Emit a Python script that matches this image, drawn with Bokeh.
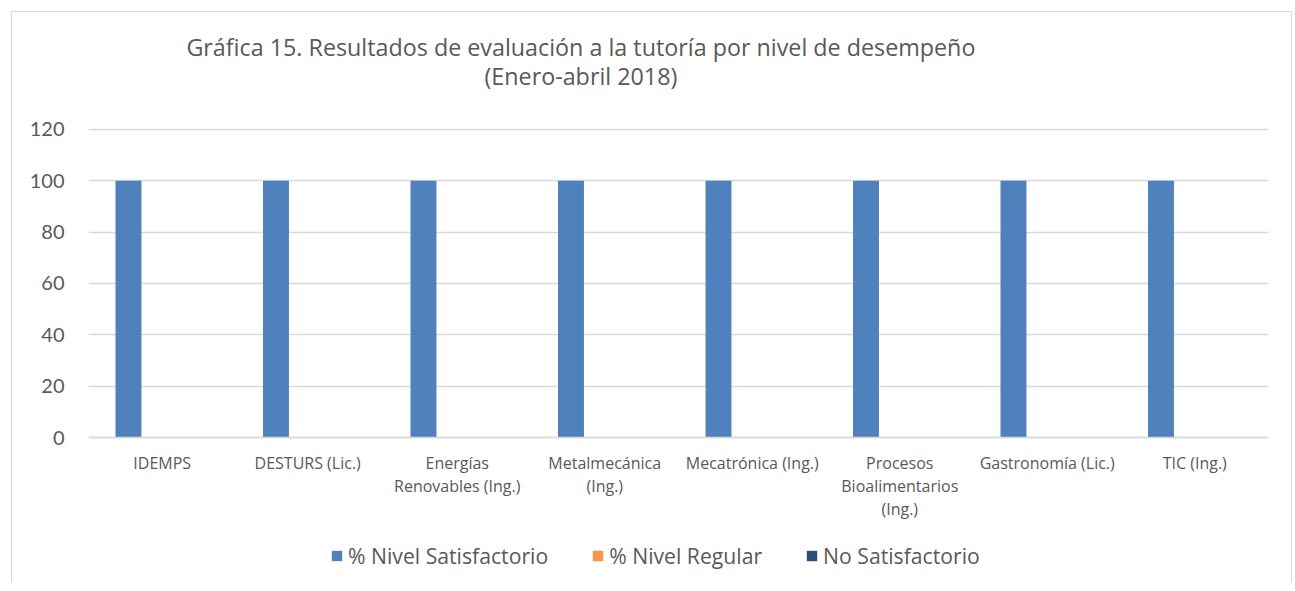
from bokeh.plotting import figure
from bokeh.models import ColumnDataSource, Label, Legend, LegendItem, FactorRange
from bokeh.transform import dodge
from bokeh.embed import file_html
from bokeh.resources import INLINE

categories = ["IDEMPS", "DESTURS  (Lic.)", "Energías\nRenovables (Ing.)", "Metalmecánica\n(Ing.)",
              "Mecatrónica (Ing.)", "Procesos\nBioalimentarios\n(Ing.)", "Gastronomía (Lic.)", "TIC (Ing.)"]
satisfactorio = [100, 100, 100, 100, 100, 100, 100, 100]
regular = [0, 0, 0, 0, 0, 0, 0, 0]
no_satisfactorio = [0, 0, 0, 0, 0, 0, 0, 0]
series_names = ["% Nivel Satisfactorio", "% Nivel Regular", "No Satisfactorio"]
y_ticks = [0, 20, 40, 60, 80, 100, 120]
colors = ["#4f81bd", "#f79646", "#2c4d75"]
title1 = "Gráfica 15. Resultados de evaluación a la tutoría por nivel de desempeño"
title2 = "(Enero-abril 2018)"

src = ColumnDataSource(dict(cat=categories, s=satisfactorio, r=regular, n=no_satisfactorio))

# frame spans the whole canvas height; the value axis covers 0..120 inside it
p = figure(width=1281, height=571, output_backend="svg", toolbar_location=None,
           x_range=FactorRange(*categories, range_padding=0, factor_padding=0),
           y_range=(-56.88, 165.58), min_border_left=76, min_border_right=25,
           min_border_top=0, min_border_bottom=0)
p.styles = {"margin-left": "11px", "margin-top": "11px",
            "border-left": "1px solid #d9d9d9", "border-top": "1px solid #d9d9d9",
            "border-right": "1px solid #d9d9d9"}
p.outline_line_color = None
p.background_fill_color = "white"

renderers = []
for key, off, col in zip(["s", "r", "n"], [-0.229, 0.0, 0.229], colors):
    r = p.vbar(x=dodge("cat", off, range=p.x_range), top=key, width=0.176, source=src,
               fill_color=col, line_color=None)
    renderers.append(r)

p.yaxis.ticker = y_ticks
p.ygrid.grid_line_color = "#d9d9d9"
p.ygrid.grid_line_width = 1.3
p.xgrid.grid_line_color = None
for ax in [p.xaxis[0], p.yaxis[0]]:
    ax.major_tick_line_color = None
    ax.minor_tick_line_color = None
    ax.major_label_text_color = "#595959"
p.yaxis.axis_line_color = None
p.yaxis.major_label_text_font = "Lato"
p.yaxis.major_label_text_font_size = "20px"
p.yaxis.major_label_standoff = 18
p.xaxis.fixed_location = 0
p.xaxis.axis_line_color = "#d9d9d9"
p.xaxis.axis_line_width = 1.3
p.xaxis.major_label_text_font = "Open Sans"
p.xaxis.major_label_text_font_size = "16px"
p.xaxis.major_label_standoff = 8
p.xaxis.major_label_text_line_height = 1.06

p.add_layout(Label(x=3.3384, y=151.95, text=title1, text_align="center", text_baseline="alphabetic",
                   text_font="Open Sans", text_font_size="23.3px", text_color="#595959"))
p.add_layout(Label(x=3.3384, y=140.65, text=title2, text_align="center", text_baseline="alphabetic",
                   text_font="Open Sans", text_font_size="23.3px", text_color="#595959"))

legend = Legend(items=[LegendItem(label=n, renderers=[r]) for n, r in zip(series_names, renderers)],
                location=(242, 13), orientation="horizontal",
                glyph_width=13, glyph_height=13, label_standoff=5, spacing=43,
                padding=0, margin=0, border_line_color=None, background_fill_alpha=0,
                label_text_font="Open Sans", label_text_font_size="21.2px", label_text_color="#595959")
p.add_layout(legend)

open("out.html", "w").write(file_html(p, INLINE))
